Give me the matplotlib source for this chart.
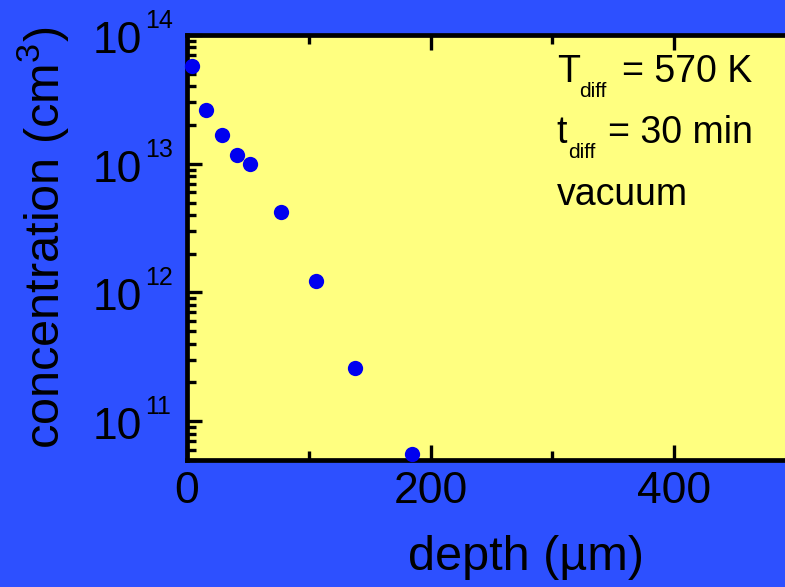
import matplotlib
matplotlib.use("Agg")
import matplotlib.pyplot as plt
import matplotlib.transforms as mtransforms
from matplotlib.ticker import FixedLocator, MultipleLocator, LogLocator, NullFormatter, FuncFormatter
import numpy as np

# data
depth_um = [4, 16, 29, 41, 52, 77, 106, 138, 185]
concentration = [5.7e13, 2.6e13, 1.67e13, 1.17e13, 9.9e12, 4.2e12, 1.22e12, 2.6e11, 5.6e10]
x_ticks = [0, 200, 400]
y_exponents = [11, 12, 13, 14]

plt.rcParams['font.family'] = ['Liberation Sans', 'DejaVu Sans']
plt.rcParams['mathtext.fontset'] = 'custom'
plt.rcParams['mathtext.rm'] = 'Liberation Sans'
plt.rcParams['mathtext.it'] = 'Liberation Sans:italic'
plt.rcParams['mathtext.bf'] = 'Liberation Sans:bold'

BG = '#2d50ff'
AX = '#ffff80'
DOT = '#0000f0'

W, H = 785, 587
fig = plt.figure(figsize=(W / 100, H / 100), dpi=100, facecolor=BG)

left, right_px, top_px, bot_px = 187.0, 187.0 + 609, 35, 460
ax = fig.add_axes([left / W, 1 - bot_px / H, (right_px - left) / W, (bot_px - top_px) / H])
ax.set_facecolor(AX)

ax.plot(depth_um, concentration, 'o', color=DOT, markersize=11, markeredgewidth=0, clip_on=False, zorder=5)

ax.set_yscale('log')
ax.set_xlim(0, 500)
ax.set_ylim(5e10, 1e14)

y_ticks = [10.0 ** e for e in y_exponents]
ax.xaxis.set_major_locator(FixedLocator(x_ticks))
ax.xaxis.set_minor_locator(MultipleLocator(100))
ax.yaxis.set_major_locator(FixedLocator(y_ticks))
ax.yaxis.set_minor_locator(LogLocator(base=10, subs=np.arange(2, 10)))
ax.yaxis.set_minor_formatter(NullFormatter())
ax.yaxis.set_major_formatter(NullFormatter())
ax.xaxis.set_major_formatter(FuncFormatter(lambda v, p: '%d' % v))

for s in ax.spines.values():
    s.set_linewidth(3.4)
    s.set_color('black')

ax.tick_params(which='both', direction='in', top=True, right=False, width=2.4, color='black')
ax.tick_params(which='major', length=11, labelsize=32, pad=8)
ax.tick_params(which='minor', length=6.5)

# y tick labels as "10" + superscript exponent
blend = mtransforms.blended_transform_factory(ax.transAxes, ax.transData)
for e, v in zip(y_exponents, y_ticks):
    t_base = mtransforms.offset_copy(blend, fig=fig, x=-45.3 * 0.72, y=-18 * 0.72, units='points')
    ax.text(0, v, '10', fontsize=32, ha='right', va='baseline', transform=t_base, clip_on=False)
    t_sup = mtransforms.offset_copy(blend, fig=fig, x=-42 * 0.72, y=7 * 0.72, units='points')
    ax.text(0, v, str(e), fontsize=18, ha='left', va='baseline', transform=t_sup, clip_on=False)

# axis labels
fig.text(526 / W, 1 - 558 / H, 'depth (µm)', fontsize=35, ha='center', va='center')
fig.text(43 / W, 1 - 238 / H, r'concentration (cm$\mathregular{^3}$)', fontsize=35,
         ha='center', va='center', rotation=90)

# annotation
def ftxt(x, y, s, size):
    fig.text(x / W, 1 - y / H, s, fontsize=size, ha='left', va='baseline')

ftxt(556.7, 81.7, 'T', 27)
ftxt(579.3, 96.7, 'diff', 15)
ftxt(621.7, 81.7, '= 570 K', 27)
ftxt(556.7, 143, 't', 27)
ftxt(568.3, 158, 'diff', 15)
ftxt(608.3, 143, '= 30 min', 27)
ftxt(556.7, 205, 'vacuum', 27)

fig.savefig('out.png', dpi=100, facecolor=BG)
